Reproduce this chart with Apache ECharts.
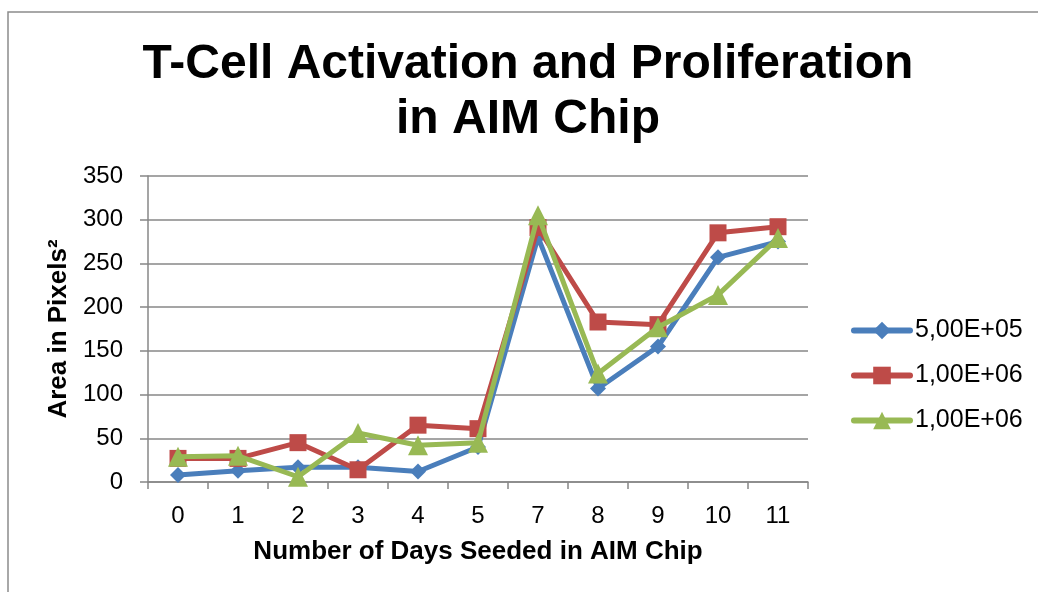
<!DOCTYPE html>
<html>
<head>
<meta charset="utf-8">
<script src="https://cdn.jsdelivr.net/npm/echarts@6/dist/echarts.min.js"></script>
<style>
  html, body { margin: 0; padding: 0; background: #fff; }
  #chart { width: 1038px; height: 592px; }
</style>
</head>
<body>
<div id="chart"></div>
<script>
// Days seeded (category axis)
const days = ['0', '1', '2', '3', '4', '5', '7', '8', '9', '10', '11'];

// Cell seeding densities (legend labels)
const seriesLabels = ['5,00E+05', '1,00E+06', '1,00E+06'];

// Area in pixels² per day
const seeded5e5 = [8, 13, 17, 17, 12, 40, 280, 107, 155, 257, 275];
const seeded1e6a = [27, 27, 45, 14, 65, 61, 291, 183, 180, 285, 292];
const seeded1e6b = [29, 30, 6, 56, 42, 45, 305, 124, 177, 214, 279];

const yTicks = { min: 0, max: 350, interval: 50 };

const colors = ['#4A7EBB', '#BE4B48', '#98B954'];
const symbols = ['diamond', 'rect', 'triangle'];
const symbolSizes = [16, 17, 20];
const values = [seeded5e5, seeded1e6a, seeded1e6b];

const FONT = 'Liberation Sans, Arial, sans-serif';
const GRID_GRAY = '#878787';

const chart = echarts.init(document.getElementById('chart'), null, { renderer: 'canvas' });

// Duplicate legend texts need distinct series names; trailing spaces keep them apart.
const seriesNames = seriesLabels.map((s, i) => s + ' '.repeat(i));

chart.setOption({
  backgroundColor: '#fff',
  animation: false,
  graphic: [{
    type: 'rect',
    shape: { x: 8, y: 12, width: 1100, height: 700 },
    style: { fill: 'none', stroke: '#8c8c8c', lineWidth: 1.5 },
    silent: true
  }],
  title: {
    text: 'T-Cell Activation and Proliferation\nin AIM Chip',
    left: 523,
    top: 32,
    textAlign: 'center',
    textStyle: {
      fontFamily: FONT,
      fontSize: 48,
      fontWeight: 'bold',
      color: '#000',
      lineHeight: 55
    }
  },
  legend: {
    orient: 'vertical',
    left: 846,
    top: 313,
    itemWidth: 56,
    itemHeight: 22,
    itemGap: 20,
    data: seriesNames,
    lineStyle: { width: 6, cap: 'round' },
    textStyle: { fontFamily: FONT, fontSize: 25, color: '#000', lineHeight: 24 }
  },
  grid: { left: 148, right: 230, top: 176, bottom: 110, containLabel: false },
  xAxis: {
    type: 'category',
    data: days,
    boundaryGap: true,
    name: 'Number of Days Seeded in AIM Chip',
    nameLocation: 'middle',
    nameGap: 57,
    nameTextStyle: { fontFamily: FONT, fontSize: 26, fontWeight: 'bold', color: '#000' },
    axisLine: { lineStyle: { color: GRID_GRAY, width: 1.5 } },
    axisTick: { show: true, length: 7, interval: 0, lineStyle: { color: GRID_GRAY, width: 1.5 } },
    axisLabel: { margin: 22, fontFamily: FONT, fontSize: 24, color: '#000', interval: 0 }
  },
  yAxis: {
    type: 'value',
    min: yTicks.min,
    max: yTicks.max,
    interval: yTicks.interval,
    name: 'Area in Pixels²',
    nameLocation: 'middle',
    nameRotate: 90,
    nameGap: 73,
    nameTextStyle: { fontFamily: FONT, fontSize: 26, fontWeight: 'bold', color: '#000' },
    axisLine: { show: true, lineStyle: { color: GRID_GRAY, width: 1.5 } },
    axisTick: { show: true, length: 8, lineStyle: { color: GRID_GRAY, width: 1.5 } },
    axisLabel: { margin: 25, fontFamily: FONT, fontSize: 24, color: '#000' },
    splitLine: { show: true, lineStyle: { color: GRID_GRAY, width: 1.5 } }
  },
  series: values.map((v, i) => ({
    name: seriesNames[i],
    type: 'line',
    data: v,
    symbol: symbols[i],
    symbolSize: symbolSizes[i],
    showAllSymbol: true,
    lineStyle: { color: colors[i], width: 5 },
    itemStyle: { color: colors[i] },
    z: 2 + i
  }))
});
</script>
</body>
</html>
